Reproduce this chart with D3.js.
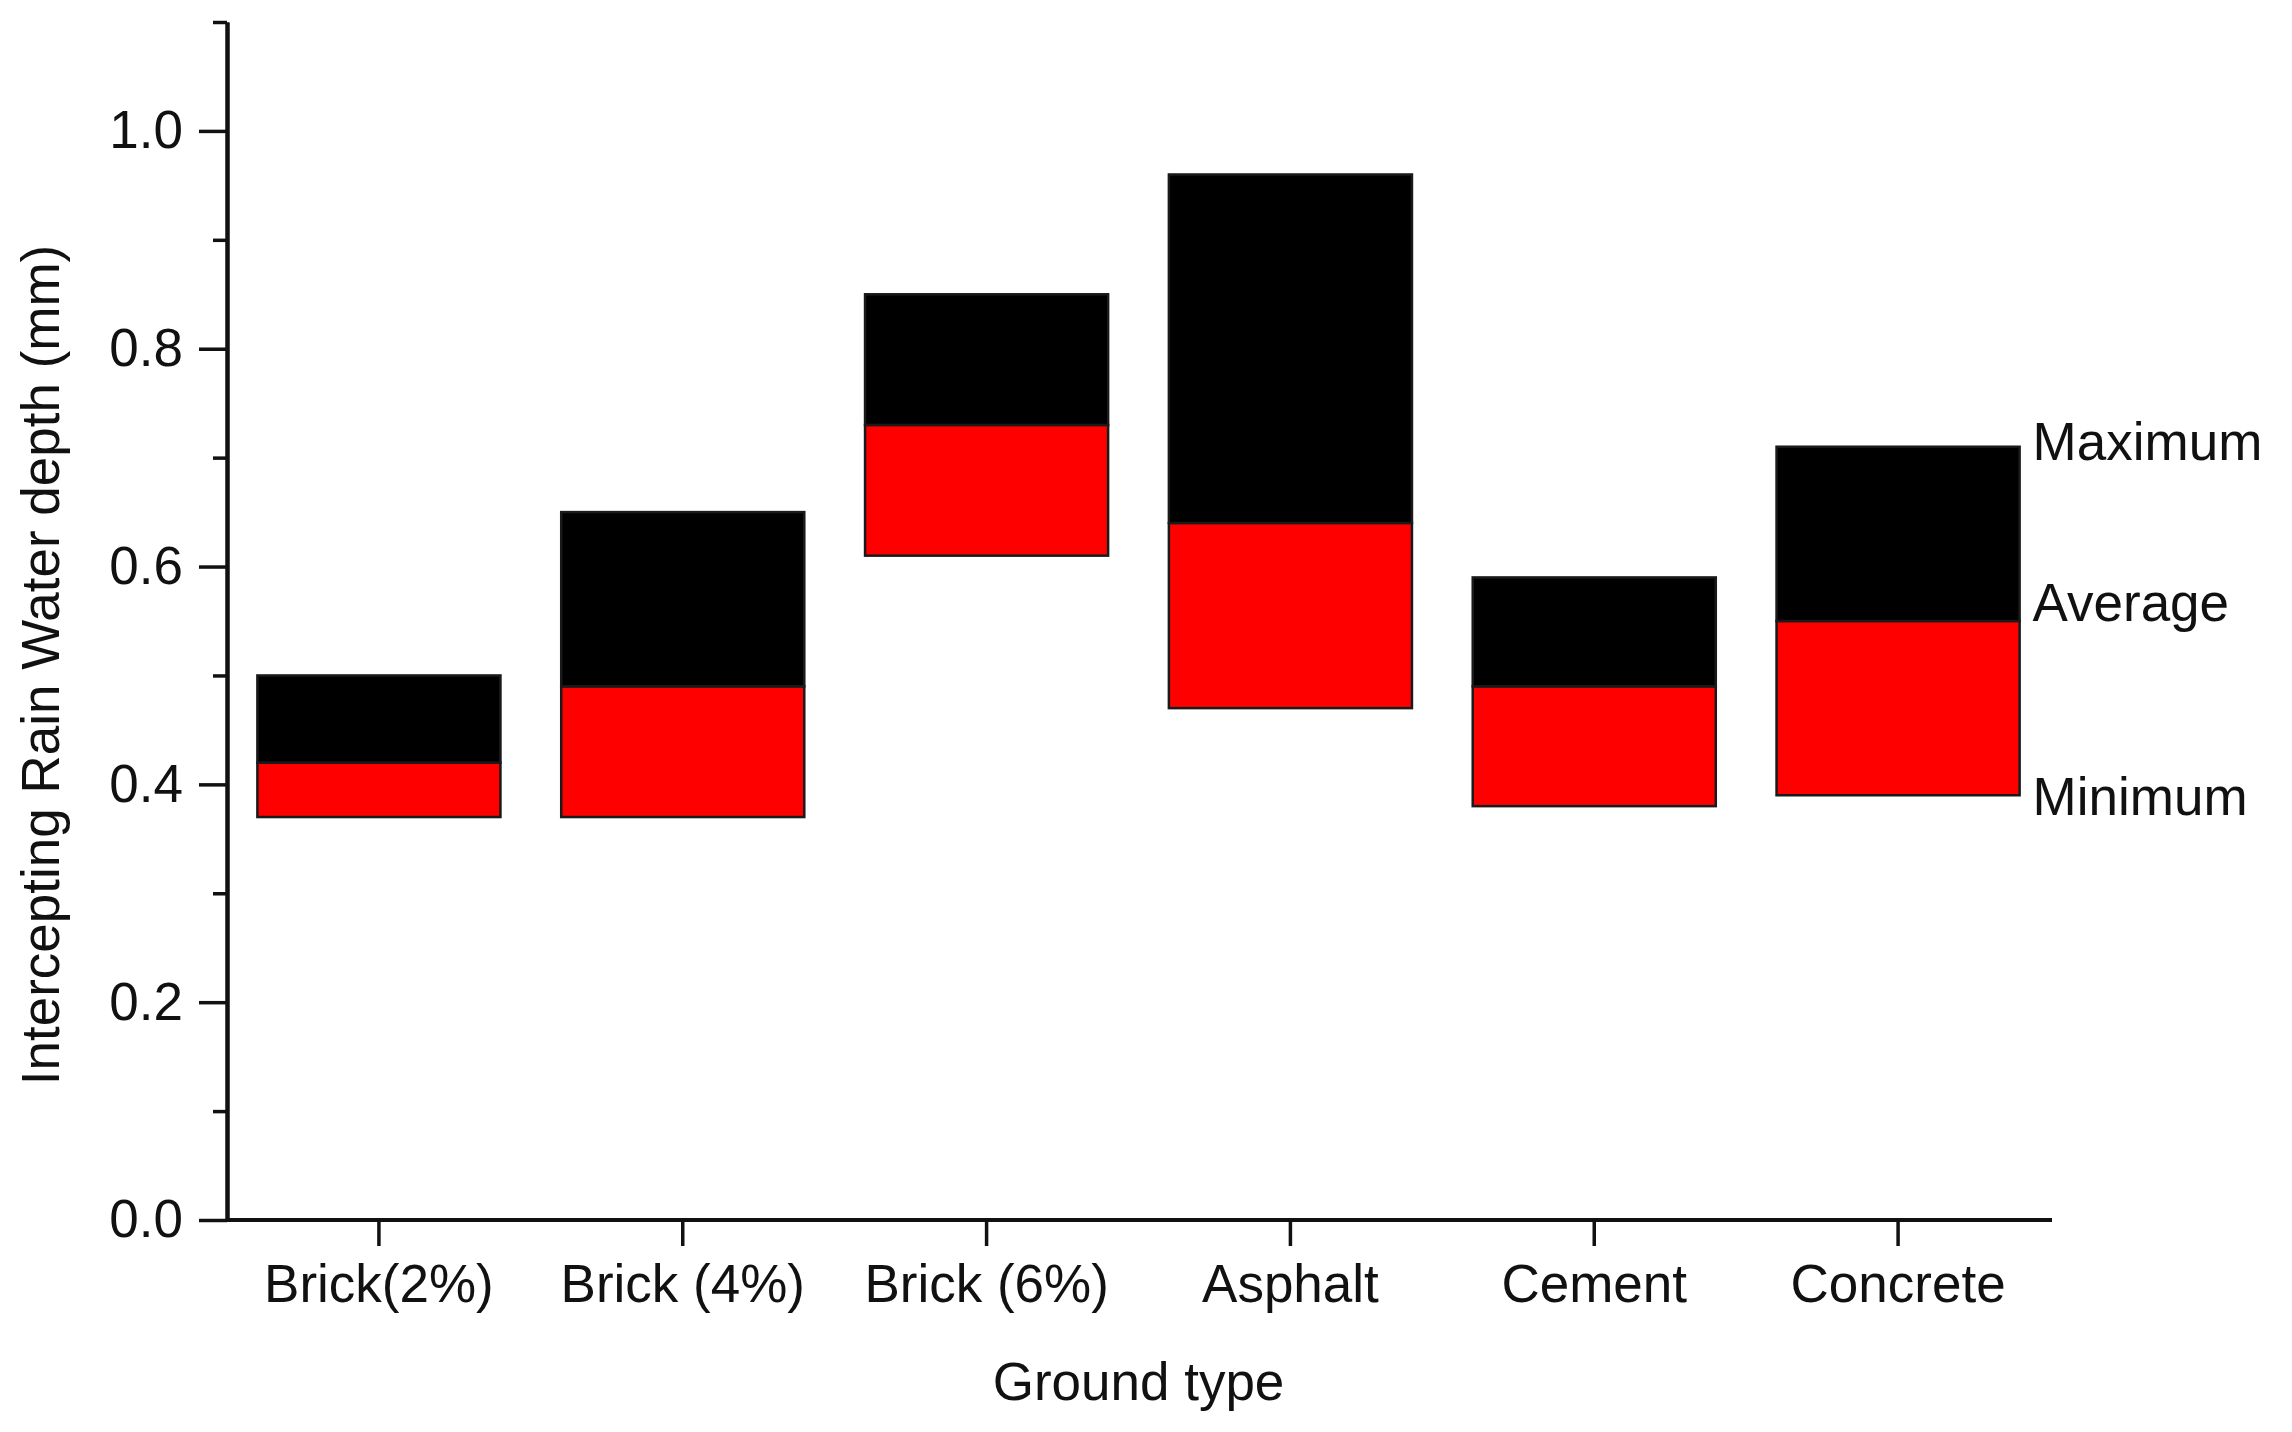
<!DOCTYPE html>
<html>
<head>
<meta charset="utf-8">
<script src="https://cdn.jsdelivr.net/npm/d3@7"></script>
<style>
  body { margin: 0; background: #fff; }
  text { font-family: "Liberation Sans", Arial, sans-serif; fill: #111; }
</style>
</head>
<body>
<div id="vis"></div>
<script>
// ground types and their interception depth (mm)
var groundTypes = ['Brick(2%)', 'Brick (4%)', 'Brick (6%)', 'Asphalt', 'Cement', 'Concrete'];
var minimum = [0.37, 0.37, 0.61, 0.47, 0.38, 0.39];
var average = [0.42, 0.49, 0.73, 0.64, 0.49, 0.55];
var maximum = [0.50, 0.65, 0.85, 0.96, 0.59, 0.71];
var majorTicks = [0.0, 0.2, 0.4, 0.6, 0.8, 1.0];
var minorTicks = [0.1, 0.3, 0.5, 0.7, 0.9, 1.1];

var W = 2292, H = 1432;
// plot frame (note: "top" is reserved on window, so use a margin object)
var frame = { left: 227, right: 2050, top: 22, bottom: 1220 };
var fontSize = 53;

var svg = d3.select('#vis')
    .append('svg')
    .attr('width', W)
    .attr('height', H);

var x = d3.scaleBand()
    .domain(groundTypes)
    .range([frame.left, frame.right])
    .paddingInner(0.2)
    .paddingOuter(0.1);

var y = d3.scaleLinear()
    .domain([0, 1.1])
    .range([frame.bottom, frame.top]);

var rows = groundTypes.map(function(g, i) {
    return { name: g, min: minimum[i], avg: average[i], max: maximum[i] };
});

// red part: minimum -> average
svg.selectAll('rect.low')
    .data(rows)
    .enter()
    .append('rect')
    .attr('class', 'low')
    .attr('x', function(d) { return x(d.name); })
    .attr('width', x.bandwidth())
    .attr('y', function(d) { return y(d.avg); })
    .attr('height', function(d) { return y(d.min) - y(d.avg); })
    .style('fill', '#ff0000')
    .style('stroke', '#1a1a1a')
    .style('stroke-width', 2.5);

// black part: average -> maximum
svg.selectAll('rect.high')
    .data(rows)
    .enter()
    .append('rect')
    .attr('class', 'high')
    .attr('x', function(d) { return x(d.name); })
    .attr('width', x.bandwidth())
    .attr('y', function(d) { return y(d.max); })
    .attr('height', function(d) { return y(d.avg) - y(d.max); })
    .style('fill', '#000')
    .style('stroke', '#1a1a1a')
    .style('stroke-width', 2.5);

// axes
var yMinor = svg.append('g')
    .attr('transform', 'translate(' + frame.left + ',0)')
    .call(d3.axisLeft(y).tickValues(minorTicks).tickSize(14).tickSizeOuter(0).tickFormat(''));

var yAxis = svg.append('g')
    .attr('transform', 'translate(' + frame.left + ',0)')
    .call(d3.axisLeft(y).tickValues(majorTicks).tickSize(28).tickSizeOuter(0)
        .tickPadding(16).tickFormat(d3.format('.1f')));

var xAxis = svg.append('g')
    .attr('transform', 'translate(0,' + frame.bottom + ')')
    .call(d3.axisBottom(x).tickSize(26).tickSizeOuter(0).tickPadding(18));

[yMinor, yAxis, xAxis].forEach(function(g) {
    g.select('.domain').style('stroke', '#111').style('stroke-width', 4);
    g.selectAll('.tick line').style('stroke', '#111').style('stroke-width', 3.5);
    g.selectAll('text').style('font-size', fontSize + 'px')
        .style('font-family', '"Liberation Sans", Arial, sans-serif').style('fill', '#111');
});
xAxis.select('.domain').attr('d', 'M' + frame.left + ',0H' + (frame.right + 2));

// axis titles
svg.append('text')
    .text('Ground type')
    .attr('x', (frame.left + frame.right) / 2)
    .attr('y', 1400)
    .attr('text-anchor', 'middle')
    .style('font-size', fontSize + 'px');

svg.append('text')
    .text('Intercepting Rain Water depth (mm)')
    .attr('transform', 'translate(59,665)rotate(-90)')
    .attr('text-anchor', 'middle')
    .style('font-size', fontSize + 'px');

// labels beside the last bar
var last = rows[rows.length - 1];
var lx = x(last.name) + x.bandwidth() + 13;
svg.append('text').text('Maximum')
    .attr('x', lx).attr('y', y(last.max) + 13)
    .style('font-size', fontSize + 'px');
svg.append('text').text('Average')
    .attr('x', lx).attr('y', y(last.avg))
    .style('font-size', fontSize + 'px');
svg.append('text').text('Minimum')
    .attr('x', lx).attr('y', y(last.min) + 20)
    .style('font-size', fontSize + 'px');
</script>
</body>
</html>
